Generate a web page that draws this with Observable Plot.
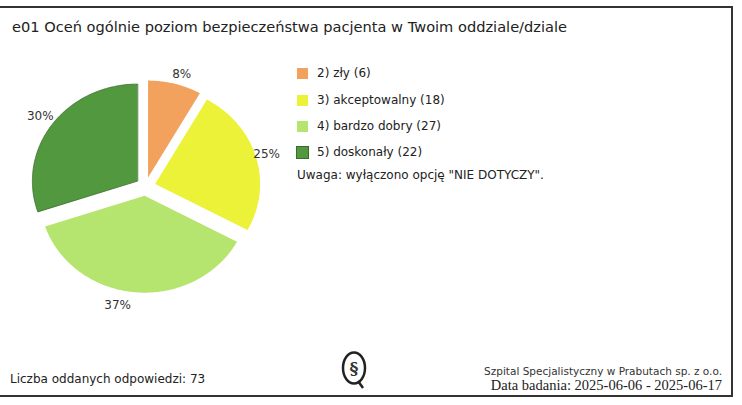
<!DOCTYPE html>
<html><head><meta charset="utf-8">
<script src="https://cdn.jsdelivr.net/npm/d3@7"></script>
<script src="https://cdn.jsdelivr.net/npm/@observablehq/plot@0.6"></script>
<style>
body{margin:0;width:742px;height:405px;position:relative;background:#fff;font-family:"DejaVu Sans",Verdana,sans-serif;color:#222;overflow:hidden}
.abs{position:absolute;white-space:nowrap}
.row{position:absolute;left:0;height:14px;display:flex;align-items:center}
.sw{width:11px;height:11px;margin-right:9px}
</style></head><body>
<div class="abs" style="left:-3px;top:6px;width:736px;height:391px;border:2px solid #333;box-sizing:border-box"></div>
<div id="title" class="abs" style="left:12px;top:18px;font-size:14.6px"></div>
<div id="chart" class="abs" style="left:0;top:0"></div>
<div id="legend" class="abs" style="left:297px;top:0;font-size:12px"></div>
<div id="footL" class="abs" style="left:10px;top:372px;font-size:12px"></div>
<div class="abs" style="right:20px;top:365px;text-align:right">
  <div id="org" style="font-size:10.5px;line-height:12px;color:#333"></div>
  <div id="dates" style="font-family:'Liberation Serif','Times New Roman',serif;font-size:14.5px;line-height:16px"></div>
</div>
<svg class="abs" style="left:340px;top:349px" width="30" height="42">
  <ellipse cx="14" cy="19" rx="11" ry="15.5" fill="none" stroke="#222" stroke-width="2.5"/>
  <path d="M18 32 L23 39" stroke="#222" stroke-width="2.5"/>
  <text x="14" y="25" text-anchor="middle" font-size="17" font-weight="bold" fill="#333" font-family="DejaVu Serif">§</text>
</svg>
<script>
const titleText = "e01 Oceń ogólnie poziom bezpieczeństwa pacjenta w Twoim oddziale/dziale";
const categories = ["2) zły", "3) akceptowalny", "4) bardzo dobry", "5) doskonały"];
const counts = [6, 18, 27, 22];
const colors = ["#f3a25e", "#ecf237", "#b6e56f", "#52983e"];
const noteText = "Uwaga: wyłączono opcję \"NIE DOTYCZY\".";
const countLabel = "Liczba oddanych odpowiedzi: ";
const orgText = "Szpital Specjalistyczny w Prabutach sp. z o.o.";
const datesText = "Data badania: 2025-06-06 - 2025-06-17";

document.getElementById("title").textContent = titleText;
const total = d3.sum(counts);
document.getElementById("footL").textContent = countLabel + total;
document.getElementById("org").textContent = orgText;
document.getElementById("dates").textContent = datesText;

const rows = categories.map((c, i) => ({cat: c, count: counts[i]}));
const arcs = d3.pie().sort(null).value(d => d.count)(rows);
const R = 1, D = 0.095;
const labelNudge = [[4, 0], [0, 0], [-17, 3], [-3, -2]];
const pts = [];
const labels = [];
arcs.forEach((a, i) => {
  const mid = (a.startAngle + a.endAngle) / 2;
  const ox = D * Math.sin(mid), oy = D * Math.cos(mid);
  pts.push({cat: a.data.cat, x: ox, y: oy});
  const n = Math.max(2, Math.ceil((a.endAngle - a.startAngle) / 0.01));
  for (let k = 0; k <= n; k++) {
    const t = a.startAngle + (a.endAngle - a.startAngle) * k / n;
    pts.push({cat: a.data.cat, x: ox + R * Math.sin(t), y: oy + R * Math.cos(t)});
  }
  labels.push({x: 1.2 * Math.sin(mid), y: 1.2 * Math.cos(mid), dx: labelNudge[i][0], dy: labelNudge[i][1],
    text: Math.round(a.data.count / total * 100) + "%"});
});

const W = 300, H = 330, cx = 145, cy = 186, sx = 105, sy = 97;
const chart = Plot.plot({
  width: W, height: H, margin: 0,
  x: {domain: [-cx / sx, (W - cx) / sx], axis: null},
  y: {domain: [-(H - cy) / sy, cy / sy], axis: null},
  color: {domain: categories, range: colors},
  style: {background: "transparent"},
  marks: [
    Plot.line(pts, {x: "x", y: "y", z: "cat", fill: "cat", stroke: "none", curve: "linear-closed"}),
    Plot.line(pts.filter(p => p.cat === categories[3]), {x: "x", y: "y", stroke: "#3a6a2c", strokeWidth: 0.8, curve: "linear-closed"}),
    ...labels.map(l => Plot.text([l], {x: "x", y: "y", text: "text", dx: l.dx, dy: l.dy, fontSize: 12, fill: "#333", fontFamily: "DejaVu Sans"}))
  ]
});
document.getElementById("chart").appendChild(chart);

const leg = document.getElementById("legend");
const rowY = [66, 93, 119, 145];
categories.forEach((c, i) => {
  const r = document.createElement("div");
  r.className = "row";
  r.style.top = rowY[i] + "px";
  const s = document.createElement("div");
  s.className = "sw";
  s.style.background = colors[i];
  if (i === 3) s.style.outline = "1px solid #3a6a2c";
  const t = document.createElement("span");
  t.textContent = `${c} (${counts[i]})`;
  r.appendChild(s); r.appendChild(t);
  leg.appendChild(r);
});
const note = document.createElement("div");
note.className = "abs";
note.style.top = "168px";
note.style.left = "0px";
note.textContent = noteText;
leg.appendChild(note);
</script>
</body></html>
